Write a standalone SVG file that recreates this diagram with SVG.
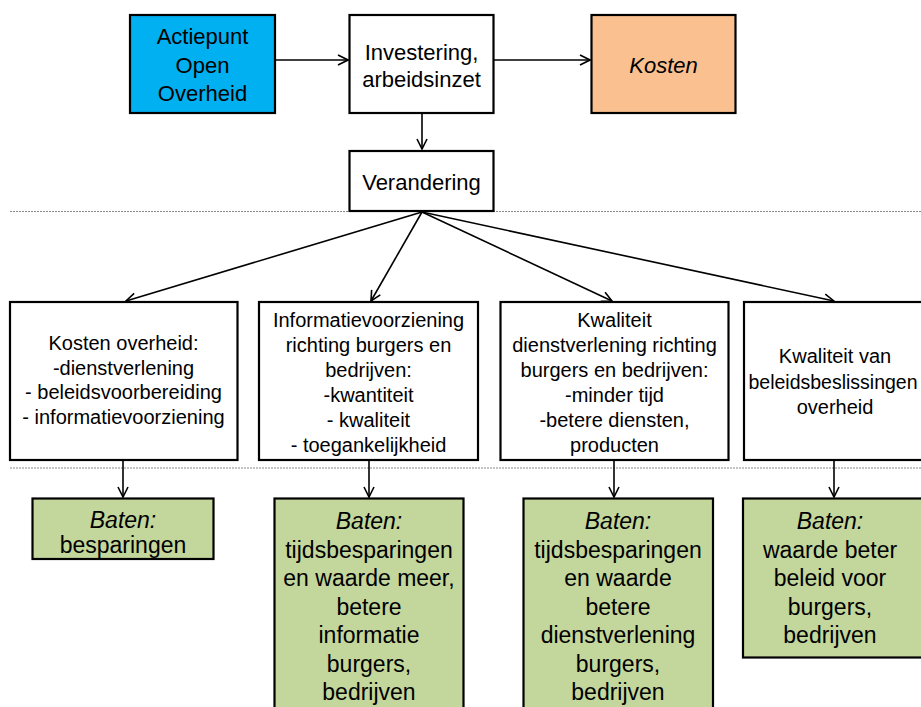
<svg xmlns="http://www.w3.org/2000/svg" width="921" height="707" viewBox="0 0 921 707">
<style>
.box{stroke:#000;stroke-width:2.2}
.w{fill:#fff}
.blue{fill:#00B0F0}
.org{fill:#FAC090}
.grn{fill:#C3D69B}
text{font-family:"Liberation Sans",Arial,sans-serif;fill:#000;text-anchor:middle}
.t22{font-size:22px}
.t20{font-size:20px}
.t23{font-size:23px}
.it{font-style:italic}
.con{stroke:#000;stroke-width:1.6;fill:none;marker-end:url(#ah)}
.dash{stroke:#888;stroke-width:1;stroke-dasharray:2,1;fill:none}
</style>
<defs>
<marker id="ah" viewBox="0 0 12 12" refX="11" refY="6" markerWidth="12" markerHeight="12" markerUnits="userSpaceOnUse" orient="auto">
<polyline points="1,1 11,6 1,11" fill="none" stroke="#000" stroke-width="1.6"/>
</marker>
</defs>
<rect width="921" height="707" fill="#fff"/>
<g id="separators">
<line class="dash" x1="10" y1="211.5" x2="921" y2="211.5"/>
<line class="dash" x1="10" y1="468" x2="921" y2="468"/>
</g>
<g id="connectors">
<line class="con" x1="275" y1="60" x2="348" y2="60"/>
<line class="con" x1="494" y1="60" x2="590" y2="60"/>
<line class="con" x1="422" y1="113" x2="422" y2="149"/>
<line class="con" x1="422" y1="212" x2="126" y2="301"/>
<line class="con" x1="422" y1="212" x2="371" y2="301"/>
<line class="con" x1="422" y1="212" x2="612" y2="301"/>
<line class="con" x1="422" y1="212" x2="834" y2="301"/>
<line class="con" x1="123" y1="460" x2="123" y2="497"/>
<line class="con" x1="369" y1="460" x2="369" y2="497"/>
<line class="con" x1="614" y1="460" x2="614" y2="497"/>
<line class="con" x1="834" y1="460" x2="834" y2="497"/>
</g>
<g id="actiepunt">
<rect class="box blue" x="130" y="15" width="145" height="98"/>
<text class="t22" x="202.5" y="44">Actiepunt</text>
<text class="t22" x="202.5" y="73">Open</text>
<text class="t22" x="202.5" y="101">Overheid</text>
</g>
<g id="investering">
<rect class="box w" x="349.5" y="15" width="144" height="98"/>
<text class="t22" x="421.5" y="59.5">Investering,</text>
<text class="t22" x="421.5" y="87">arbeidsinzet</text>
</g>
<g id="kosten">
<rect class="box org" x="591.5" y="15" width="144" height="98"/>
<text class="t22 it" x="663.5" y="73">Kosten</text>
</g>
<g id="verandering">
<rect class="box w" x="349.5" y="151" width="144" height="60"/>
<text class="t22" x="421.5" y="189.5">Verandering</text>
</g>
<g id="kosten-overheid">
<rect class="box w" x="10" y="302" width="227.5" height="158"/>
<text class="t20" x="123.5" y="350">Kosten overheid:</text>
<text class="t20" x="123.5" y="374.5">-dienstverlening</text>
<text class="t20" x="123.5" y="399">- beleidsvoorbereiding</text>
<text class="t20" x="123.5" y="424">- informatievoorziening</text>
</g>
<g id="informatievoorziening">
<rect class="box w" x="259" y="302" width="219" height="158"/>
<text class="t20" x="368.5" y="327">Informatievoorziening</text>
<text class="t20" x="368.5" y="352">richting burgers en</text>
<text class="t20" x="368.5" y="377">bedrijven:</text>
<text class="t20" x="368.5" y="402">-kwantiteit</text>
<text class="t20" x="368.5" y="427">- kwaliteit</text>
<text class="t20" x="368.5" y="452">- toegankelijkheid</text>
</g>
<g id="kwaliteit-dienstverlening">
<rect class="box w" x="500.5" y="302" width="228" height="158"/>
<text class="t20" x="614.5" y="327">Kwaliteit</text>
<text class="t20" x="614.5" y="352">dienstverlening richting</text>
<text class="t20" x="614.5" y="377">burgers en bedrijven:</text>
<text class="t20" x="614.5" y="402">-minder tijd</text>
<text class="t20" x="614.5" y="427">-betere diensten,</text>
<text class="t20" x="614.5" y="452">producten</text>
</g>
<g id="kwaliteit-beleid">
<rect class="box w" x="744" y="302" width="186" height="158"/>
<text class="t20" x="835" y="363">Kwaliteit van</text>
<text class="t20" x="833" y="388.5" style="font-size:19.5px">beleidsbeslissingen</text>
<text class="t20" x="835" y="414">overheid</text>
</g>
<g id="baten-besparingen">
<rect class="box grn" x="32.5" y="498.5" width="181" height="60.5"/>
<text class="t23 it" x="123" y="528">Baten:</text>
<text class="t23" x="123" y="553">besparingen</text>
</g>
<g id="baten-informatie">
<rect class="box grn" x="274.5" y="498.5" width="189" height="220"/>
<text class="t23 it" x="369" y="529">Baten:</text>
<text class="t23" x="369" y="557.5">tijdsbesparingen</text>
<text class="t23" x="369" y="586">en waarde meer,</text>
<text class="t23" x="369" y="614.5">betere</text>
<text class="t23" x="369" y="643">informatie</text>
<text class="t23" x="369" y="671.5">burgers,</text>
<text class="t23" x="369" y="700">bedrijven</text>
</g>
<g id="baten-dienstverlening">
<rect class="box grn" x="523.5" y="498.5" width="189.5" height="220"/>
<text class="t23 it" x="618" y="529">Baten:</text>
<text class="t23" x="618" y="557.5">tijdsbesparingen</text>
<text class="t23" x="618" y="586">en waarde</text>
<text class="t23" x="618" y="614.5">betere</text>
<text class="t23" x="618" y="643">dienstverlening</text>
<text class="t23" x="618" y="671.5">burgers,</text>
<text class="t23" x="618" y="700">bedrijven</text>
</g>
<g id="baten-beleid">
<rect class="box grn" x="743" y="498.5" width="187" height="159"/>
<text class="t23 it" x="830" y="529">Baten:</text>
<text class="t23" x="830" y="557.5">waarde beter</text>
<text class="t23" x="830" y="586">beleid voor</text>
<text class="t23" x="830" y="614.5">burgers,</text>
<text class="t23" x="830" y="643">bedrijven</text>
</g>
</svg>
